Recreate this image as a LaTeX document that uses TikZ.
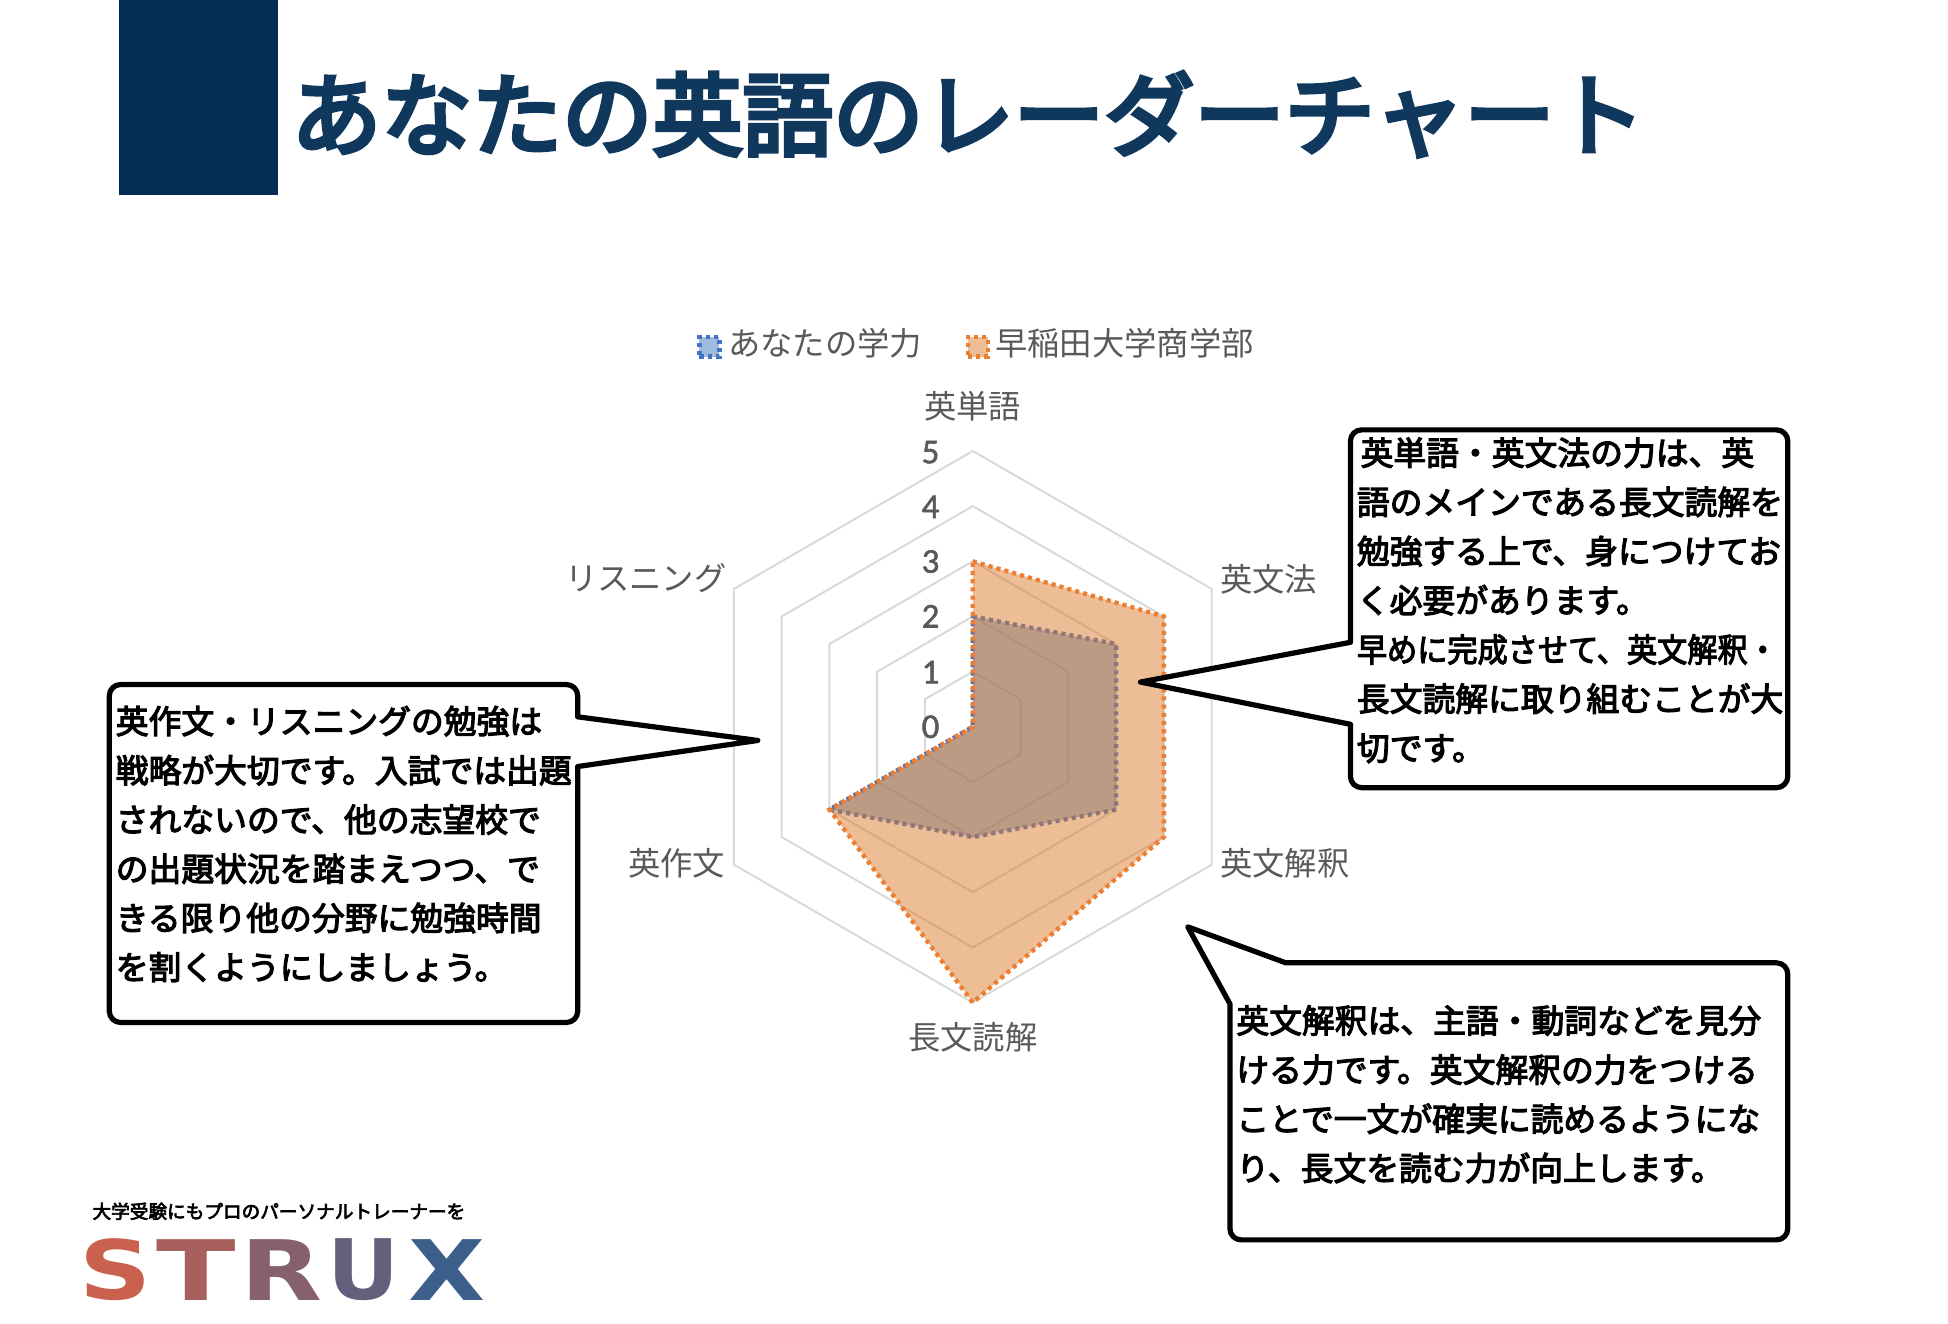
\documentclass[tikz,border=0pt]{standalone}
\usepackage{fontspec}
\setmainfont{Noto Sans CJK JP}
\newfontfamily\notefont{Noto Sans CJK JP}[FakeBold=3.5]
\newfontfamily\titlefont{Noto Sans CJK JP}[FakeBold=5]
\newfontfamily\numfont{Carlito}[FakeBold=1.5]
\newfontfamily\logofont{DejaVu Sans}
\usepackage{xcolor}
\usetikzlibrary{positioning}
\definecolor{navy}{HTML}{032D54}
\definecolor{gridgray}{HTML}{D9D9D9}
\definecolor{labelgray}{HTML}{595959}
\definecolor{seriesblue}{HTML}{4472C4}
\definecolor{seriesorange}{HTML}{ED7D31}
\definecolor{fillblue}{HTML}{3F77BB}
\definecolor{fillorange}{HTML}{DB7B2D}
\definecolor{logored}{HTML}{D4614A}
\definecolor{logoblue}{HTML}{2A5E92}
\newcommand{\ru}{44.4}

\begin{document}
\begin{tikzpicture}[
    x=1pt, y=-1pt,
    gridline/.style={draw=gridgray, line width=1.6pt},
    axislabel/.style={text=labelgray, font=\fontsize{26}{26}\selectfont, inner sep=0pt},
    ticklabel/.style={text=labelgray, font=\numfont\fontsize{28}{28}\selectfont, inner sep=0pt},
    series/.style n args={2}{draw=#1, fill=#2, fill opacity=0.5, draw opacity=1, line width=3.5pt, dash pattern=on 3.3pt off 3.3pt},
    legendkey/.style n args={2}{draw=#1, fill=#2!50, line width=3.5pt, dash pattern=on 3.3pt off 3.3pt, minimum size=16pt, inner sep=0pt},
    callout/.style={draw=black, fill=white, line width=4.2pt, line join=round},
    callouttext/.style={anchor=north west, align=left, inner sep=0pt, font=\notefont\fontsize{26.4}{39.6}\selectfont}
]
\useasboundingbox (0,0) rectangle (1568,1065.7);

% Header
\fill[navy] (96,0) rectangle (224,157);
\node[anchor=west, inner sep=0pt, text=navy!95!white, font=\titlefont\fontsize{72.7}{72.7}\selectfont] (title) at (234.2,92) {あなたの英語のレーダーチャート};

% Legend
\node[legendkey={seriesblue}{fillblue}] (keyyou) at (571,279) {};
\node[axislabel, anchor=west] (legendyou) at (586,276) {あなたの学力};
\node[legendkey={seriesorange}{fillorange}] (keywaseda) at (787,279) {};
\node[axislabel, anchor=west] (legendwaseda) at (801,276) {早稲田大学商学部};

% Radar chart
\begin{scope}[shift={(783,585)}]
  \foreach \lev in {1,...,5} {
    \draw[gridline] (-90:\lev*\ru) -- (-30:\lev*\ru) -- (30:\lev*\ru) -- (90:\lev*\ru) -- (150:\lev*\ru) -- (210:\lev*\ru) -- cycle;
  }
  \draw[series={seriesblue}{fillblue}] (-90:2*\ru) -- (-30:3*\ru) -- (30:3*\ru) -- (90:2*\ru) -- (150:3*\ru) -- (210:0) -- cycle;
  \draw[series={seriesorange}{fillorange}] (-90:3*\ru) -- (-30:4*\ru) -- (30:4*\ru) -- (90:5*\ru) -- (150:3*\ru) -- (210:0) -- cycle;
\end{scope}

% Tick labels
\foreach \lev/\ypos in {0/585, 1/541, 2/496, 3/452, 4/408, 5/364} {
  \node[ticklabel] (tick\lev) at (749,\ypos) {\lev};
}

% Axis labels
\node[axislabel] (vocab) at (783,327) {英単語};
\node[axislabel, anchor=west] (grammar) at (982,466) {英文法};
\node[axislabel, anchor=west] (parsing) at (982,695) {英文解釈};
\node[axislabel] (reading) at (783,835) {長文読解};
\node[axislabel, anchor=east] (writing) at (584,695) {英作文};
\node[axislabel, anchor=east] (listening) at (585,465) {リスニング};

% Callouts
\draw[callout] (1087,517) -- (918,549) -- (1087,583) -- (1087,600) [rounded corners=9] -- (1087,634) -- (1439,634) -- (1439,346) -- (1087,346) -- (1087,400) [sharp corners] -- cycle;
\node[callouttext] (noteright) at (1092,352) {\hspace*{3pt}英単語・英文法の力は、英\\語のメインである長文読解を\\勉強する上で、身につけてお\\く必要があります。\\\scalebox{.92}[1]{早めに完成させて、英文解釈・}\\長文読解に取り組むことが大\\切です。};

\draw[callout] (465,617) -- (610,596) -- (465,577) -- (465,565) [rounded corners=9] -- (465,551) -- (88,551) -- (88,823) -- (465,823) -- (465,700) [sharp corners] -- cycle;
\node[callouttext] (noteleft) at (93,568) {英作文・リスニングの勉強は\\戦略が大切です。入試では出題\\されないので、他の志望校で\\の出題状況を踏まえつつ、で\\きる限り他の分野に勉強時間\\を割くようにしましょう。};

\draw[callout] (990,808) -- (956,746) -- (1035,775) -- (1100,775) [rounded corners=9] -- (1439,775) -- (1439,998) -- (990,998) -- (990,900) [sharp corners] -- cycle;
\node[callouttext] (notebottom) at (995,809) {英文解釈は、主語・動詞などを見分\\ける力です。英文解釈の力をつける\\ことで一文が確実に読めるようにな\\り、長文を読む力が向上します。};

% Logo
\node[inner sep=0pt, text=black, font=\notefont\fontsize{15}{15}\selectfont] (tagline) at (224.5,975) {大学受験にもプロのパーソナルトレーナーを};
\foreach \letter/\xpos/\wid/\mixval in {S/93/58/6, T/158/64/26, R/226.5/66/46, U/292.5/58/66, X/360/62/90} {
  \node[inner sep=0pt, text=logoblue!\mixval!logored] (logo\letter) at (\xpos,1022) {\logofont\bfseries\resizebox{\wid pt}{49pt}{\letter}};
}

\end{tikzpicture}
\end{document}
